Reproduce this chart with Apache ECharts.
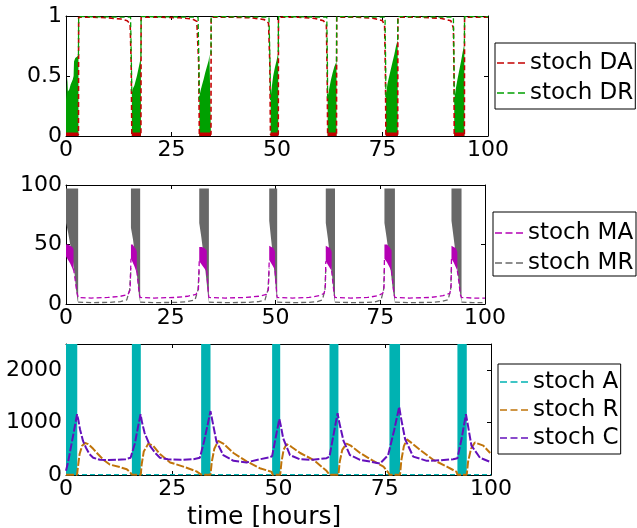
<!DOCTYPE html>
<html><head><meta charset="utf-8">
<script src="https://cdn.jsdelivr.net/npm/echarts@6/dist/echarts.min.js"></script>
<style>html,body{margin:0;padding:0;background:#fff}#c{width:637px;height:528px}</style>
</head><body><div id="c"></div>
<script>
const G = ['-','-'];
const G3 = ['-','-','-'];
const FONT = 'DejaVu Sans';

// ---------- panel 1: DA / DR ----------
const daLine = [
 [0,0.012],[2.95,0.012],[3.0,0.99],[6,0.99],[10,0.985],[13,0.975],[14.5,0.96],[15.2,0.935],[15.45,0.6],[15.6,0.012],[17.75,0.012],[17.8,0.99],
 [22,0.99],[27,0.985],[30,0.975],[31,0.955],[31.45,0.6],[31.6,0.012],[34.35,0.012],[34.4,0.99],
 [39,0.99],[44,0.985],[47,0.97],[48,0.94],[48.3,0.6],[48.45,0.012],[50.3,0.012],[50.35,0.99],
 [55,0.99],[59,0.98],[61,0.96],[61.7,0.93],[61.9,0.5],[62.0,0.012],[64.1,0.012],[64.15,0.99],
 [69,0.99],[73,0.98],[75,0.96],[75.5,0.92],[75.7,0.5],[75.8,0.012],[78.6,0.012],[78.65,0.99],
 [84,0.99],[89,0.98],[91.2,0.96],[91.8,0.9],[91.95,0.5],[92.0,0.012],[94.4,0.012],[94.45,0.99],[100,0.99]
];
const daFloor = [[0,0.03],[2.95,0.03],G,[15.6,0.03],[17.75,0.03],G,[31.6,0.03],[34.35,0.03],G,[48.45,0.03],[50.3,0.03],G,[62.0,0.03],[64.1,0.03],G,[75.8,0.03],[78.6,0.03],G,[92.0,0.03],[94.4,0.03]];
const drLine = [
 [2.95,0.67],[3.0,0.995],[15.3,0.99],[15.5,0.6],[15.6,0.35],G,
 [17.75,0.66],[17.8,0.995],[31.3,0.99],[31.5,0.6],[31.6,0.3],G,
 [34.35,0.68],[34.4,0.995],[48.1,0.99],[48.35,0.6],[48.5,0.3],G,
 [50.3,0.7],[50.35,0.995],[61.8,0.99],[61.95,0.6],[62.0,0.3],G,
 [64.1,0.62],[64.15,0.995],[75.6,0.99],[75.75,0.6],[75.8,0.32],G,
 [78.6,0.8],[78.65,0.995],[91.8,0.99],[91.95,0.6],[92.0,0.28],G,
 [94.4,0.77],[94.45,0.995],[100,0.995]
];
const drBand = [
 [0,0.3],[0.3,0.49],[0.45,0.37],[0.8,0.39],[1.1,0.43],[1.6,0.47],[1.8,0.5],[1.9,0.62],[2.2,0.65],[2.5,0.66],[2.95,0.67],G,
 [15.6,0.36],[15.9,0.4],[16.2,0.42],[16.5,0.46],[16.8,0.5],[17.1,0.55],[17.4,0.6],[17.75,0.66],G,
 [31.6,0.33],[31.9,0.38],[32.2,0.42],[32.6,0.47],[33.0,0.53],[33.4,0.58],[33.8,0.63],[34.0,0.68],[34.35,0.68],G,
 [48.5,0.32],[48.8,0.42],[49.1,0.5],[49.5,0.57],[49.9,0.63],[50.3,0.7],G,
 [62.0,0.32],[62.4,0.4],[62.8,0.47],[63.2,0.53],[63.6,0.58],[64.1,0.62],G,
 [75.8,0.34],[76.2,0.44],[76.6,0.5],[77.0,0.56],[77.4,0.62],[77.8,0.68],[78.2,0.75],[78.6,0.8],G,
 [92.0,0.3],[92.4,0.4],[92.8,0.48],[93.2,0.55],[93.6,0.62],[94.0,0.7],[94.4,0.77]
];

// ---------- panel 2: MA / MR ----------
const mrBand = [ // [t, low, high]
 [0,68,97],[0.5,60,97],[1.0,50,97],[1.5,40,97],[2.0,27,97],[2.4,12,97],[2.75,3,97],[2.9,1,97],G3,
 [15.5,64,97],[16.0,54,97],[16.5,40,97],[17.0,22,97],[17.4,8,97],[17.7,1,97],G3,
 [31.8,68,97],[32.3,56,97],[32.8,42,97],[33.3,27,97],[33.8,10,97],[34.1,1,97],G3,
 [48.5,70,97],[48.9,56,97],[49.4,40,97],[49.9,20,97],[50.4,1,97],G3,
 [62.0,68,97],[62.5,55,97],[63.0,40,97],[63.5,24,97],[63.9,8,97],[64.2,1,97],G3,
 [76.0,68,97],[76.5,56,97],[77.0,43,97],[77.5,28,97],[78.0,12,97],[78.5,1,97],G3,
 [92.0,70,97],[92.5,56,97],[93.0,42,97],[93.5,26,97],[94.0,10,97],[94.4,1,97]
];
const maBand = [ // [t, low, high]
 [0,40,50],[0.5,37,50],[1.0,34,49],[1.5,30,48],[1.8,27,46],G3,
 [15.5,38,50],[15.9,35,50],[16.3,32,48],[16.7,28,46],[16.9,26,44],G3,
 [31.8,36,48],[32.4,33,48],[33.0,30,47],[33.6,27,45],G3,
 [48.5,37,49],[49.0,34,48],[49.5,31,47],[49.9,28,44],G3,
 [62.0,36,49],[62.5,33,48],[63.0,30,47],[63.4,28,44],G3,
 [76.0,38,50],[76.6,35,50],[77.2,31,48],[77.7,27,45],G3,
 [92.0,38,49],[92.5,35,48],[93.0,31,47],[93.4,28,44]
];
const maLine = [
 [1.8,30],[2.2,20],[2.6,10],[2.9,5.5],[6,5],[10,5.5],[13,6.5],[14.8,8],[15.3,12],[15.5,38],G,
 [16.9,28],[17.2,18],[17.5,8],[17.7,5.5],[21,5],[26,5.5],[29,6.5],[31,8],[31.6,12],[31.8,36],G,
 [33.6,28],[33.8,18],[34.0,8],[34.1,5.5],[38,5],[43,5.5],[46,6.5],[47.8,8],[48.3,12],[48.5,37],G,
 [49.9,28],[50.1,18],[50.3,8],[50.4,5.5],[54,5],[58,5.5],[60.5,7],[61.6,9],[61.9,14],[62.0,36],G,
 [63.4,28],[63.7,18],[64.0,8],[64.2,5.5],[68,5],[72,5.5],[74.5,7],[75.6,9],[75.9,14],[76.0,38],G,
 [77.7,28],[78.0,18],[78.3,8],[78.5,5.5],[82,5],[87,5.5],[90,7],[91.6,9],[91.9,14],[92.0,38],G,
 [93.4,28],[93.8,18],[94.1,8],[94.4,5.5],[97,5],[100,5]
];
const mrLine = [
 [2.9,1.5],[6,1.2],[10,1.3],[13,2],[14.5,3.5],[15.2,12],[15.5,30],G,
 [17.7,1.5],[21,1.2],[26,1.3],[29,2],[30.8,3.5],[31.5,12],[31.8,30],G,
 [34.1,1.5],[38,1.2],[43,1.3],[46,2],[47.5,3.5],[48.2,12],[48.5,30],G,
 [50.4,1.5],[54,1.2],[58,1.3],[60,2],[61.2,3.5],[61.8,12],[62,30],G,
 [64.2,1.5],[68,1.2],[72,1.3],[74,2],[75.2,3.5],[75.8,12],[76,30],G,
 [78.5,1.5],[82,1.2],[87,1.3],[89.5,2],[91.2,3.5],[91.8,12],[92,30],G,
 [94.4,1.5],[97,1.2],[100,1.2]
];

// ---------- panel 3: A / R / C ----------
const aBand = [[0,2500],[2.65,2500],G,[15.5,2500],[17.6,2500],G,[31.8,2500],[34.0,2500],G,[48.5,2500],[50.4,2500],G,[62.0,2500],[64.1,2500],G,[76.1,2500],[78.6,2500],G,[92.1,2500],[94.3,2500]];
const aLine = [[0,8],[100,8]];
const rLine = [
 [0,5],[2.6,5],[2.8,150],[3.2,400],[3.8,560],[4.5,610],[5.2,590],[6.4,500],[7.5,400],[8.8,290],[10.3,200],[12.7,150],[14.3,110],[15.0,60],[15.5,8],
 [17.6,5],[17.8,200],[18.3,450],[19.4,600],[20.5,560],[22.1,400],[24.5,240],[27.6,160],[30.7,70],[31.8,8],
 [34.0,5],[34.3,250],[34.9,500],[35.8,650],[37.0,600],[39.4,420],[42.5,260],[45.6,130],[48.4,60],[48.6,5],
 [50.4,5],[50.7,250],[51.2,480],[51.9,590],[53,540],[55.1,420],[58.2,290],[61.3,80],[62,5],
 [64.1,5],[64.4,250],[65,480],[66,600],[67,560],[69.2,420],[72.3,270],[74.7,160],[75.8,50],[76.1,5],
 [78.6,5],[78.9,280],[79.5,550],[80.2,680],[81.5,600],[83.3,480],[86.4,290],[89.6,160],[91.9,60],[92.1,5],
 [94.3,5],[94.6,250],[95.3,500],[96.2,620],[98.2,560],[99.8,420]
];
const cLine = [
 [0,80],[0.5,250],[1.2,550],[1.9,850],[2.6,1160],[2.9,1050],[3.3,870],[4.0,650],[4.7,520],[5.5,400],[6.4,330],[8,290],[10,285],[12,290],[14,300],[15.2,330],
 [15.5,360],[16.2,600],[16.9,900],[17.55,1160],[17.9,1000],[18.5,800],[19.8,550],[21,420],[22.1,330],[24,300],[27,290],[30,300],[31.5,330],
 [31.8,350],[32.5,650],[33.3,950],[34.0,1220],[34.4,1050],[35.4,640],[37.0,380],[39.4,270],[42.5,240],[45.6,300],[48.0,340],
 [48.5,360],[49.3,700],[50.2,1070],[50.6,920],[51.1,700],[52.7,380],[55,300],[58,290],[61.3,320],
 [62.0,350],[62.9,750],[63.9,1180],[64.3,1000],[65.3,650],[66.8,380],[69.2,290],[72,250],[73.9,220],[75.8,380],
 [76.1,400],[77.2,850],[78.4,1300],[78.8,1100],[79.8,680],[81.7,350],[84.9,270],[88,280],[91.1,300],
 [92.1,320],[93.1,700],[94.1,1160],[94.5,980],[95.4,560],[97.4,330],[99.8,250]
];

const xTickLabels = ['0','25','50','75','100'];

function segments(b){
  const out=[]; let cur=[];
  b.forEach(r => { if (r[0]==='-') { if (cur.length) out.push(cur); cur=[]; } else cur.push(r); });
  if (cur.length) out.push(cur);
  return out;
}

function axes(gi, ymax, yint, showMax){
  const line = {onZero:false, lineStyle:{color:'#000', width:1}};
  const tick = {inside:true, length:4, lineStyle:{color:'#000', width:1}};
  const lab = {color:'#000', fontSize:22, fontFamily:FONT};
  return {
    x:[{type:'value', gridIndex:gi, min:0, max:100, interval:25, position:'bottom', axisLine:line, axisTick:tick,
        axisLabel:Object.assign({margin:3, formatter:v => xTickLabels[Math.round(v/25)] || ''}, lab), splitLine:{show:false}},
       {type:'value', gridIndex:gi, min:0, max:100, interval:25, position:'top', axisLine:line, axisTick:tick,
        axisLabel:{show:false}, splitLine:{show:false}}],
    y:[{type:'value', gridIndex:gi, min:0, max:ymax, interval:yint, position:'left', axisLine:line, axisTick:tick,
        axisLabel:Object.assign({margin:4, showMaxLabel:showMax, formatter:v => String(v)}, lab), splitLine:{show:false}},
       {type:'value', gridIndex:gi, min:0, max:ymax, interval:yint, position:'right', axisLine:line, axisTick:tick,
        axisLabel:{show:false}, splitLine:{show:false}}]
  };
}
const a1 = axes(0,1,0.5,true), a2 = axes(1,100,50,true), a3 = axes(2,2500,1000,false);

function ser(name, data, gi, color, opts){
  return Object.assign({
    type:'line', name, data, xAxisIndex:gi*2, yAxisIndex:gi*2, symbol:'none', showSymbol:false,
    connectNulls:false, silent:true, animation:false,
    lineStyle:{color, width:1.3, type:[5,3]}, itemStyle:{color}
  }, opts || {});
}
function band(name, data, gi, color, opts){
  return ser(name, data, gi, color, Object.assign({lineStyle:{width:0, opacity:0}, areaStyle:{color, opacity:1}}, opts||{}));
}
// band between a low and a high edge, drawn as polygons through the axis scales
function rangeBand(name, rows, gi, color){
  const segs = segments(rows);
  return {
    type:'custom', name, xAxisIndex:gi*2, yAxisIndex:gi*2, silent:true, animation:false, clip:true,
    data: segs.map((s,i) => [s[0][0], s[0][1], i]),
    encode:{x:0, y:1},
    renderItem: (params, api) => {
      const s = segs[api.value(2)];
      const top = s.map(r => api.coord([r[0], r[2]]));
      const bot = s.slice().reverse().map(r => api.coord([r[0], r[1]]));
      return {type:'polygon', shape:{points: top.concat(bot)}, style:{fill:color}};
    }
  };
}

const C = {DA:'#c40000', DR:'#00a000', MA:'#b400b4', MR:'#686868', A:'#00b2b2', R:'#c0740a', C:'#6410bc'};
const DASH = 'path://M0,0h7v1.3h-7zM10.5,0h7v1.3h-7zM21,0h7v1.3h-7z';

const legendBase = {orient:'vertical', borderColor:'#000', borderWidth:1, borderRadius:0, backgroundColor:'#fff',
  itemWidth:28, itemHeight:14, itemGap:6, selectedMode:false};
const lgText = w => ({fontSize:23, fontFamily:FONT, color:'#000', lineHeight:24, width:w, overflow:'none'});
const lg = names => names.map(n => ({name:n, icon:DASH}));

const option = {
  animation:false,
  grid:[
    {left:66, top:16, width:422, height:120},
    {left:66, top:185, width:419, height:119},
    {left:66, top:344, width:425, height:131}
  ],
  xAxis:[...a1.x, ...a2.x, ...a3.x],
  yAxis:[...a1.y, ...a2.y, ...a3.y],
  legend:[
    Object.assign({}, legendBase, {data:lg(['stoch DA','stoch DR']), left:495, top:43, padding:[8,2,4,2], textStyle:lgText(103)}),
    Object.assign({}, legendBase, {data:lg(['stoch MA','stoch MR']), left:493, top:212, padding:[9,2,1,2], textStyle:lgText(106)}),
    Object.assign({}, legendBase, {data:lg(['stoch A','stoch R','stoch C']), left:498, top:364, padding:[6,2,4,2], itemGap:4, textStyle:lgText(82)})
  ],
  graphic:[{type:'text', left:187, top:505, style:{text:'time [hours]', font:'25px "DejaVu Sans"', fill:'#000'}}],
  series:[
    band('DRband', drBand, 0, C.DR),
    band('DAfloor', daFloor, 0, C.DA),
    ser('stoch DA', daLine, 0, C.DA, {lineStyle:{color:C.DA, width:1.6, type:[5,3]}}),
    ser('stoch DR', drLine, 0, C.DR),

    rangeBand('MRband', mrBand, 1, C.MR),
    ser('stoch MR', mrLine, 1, C.MR),
    rangeBand('MAband', maBand, 1, C.MA),
    ser('stoch MA', maLine, 1, C.MA),

    band('Aband', aBand, 2, C.A),
    ser('stoch A', aLine, 2, C.A),
    ser('stoch R', rLine, 2, C.R, {lineStyle:{color:C.R, width:2, type:[8,2]}}),
    ser('stoch C', cLine, 2, C.C, {lineStyle:{color:C.C, width:2, type:[8,2]}})
  ]
};
const chart = echarts.init(document.getElementById('c'), null, {renderer:'canvas'});
chart.setOption(option);
</script></body></html>
